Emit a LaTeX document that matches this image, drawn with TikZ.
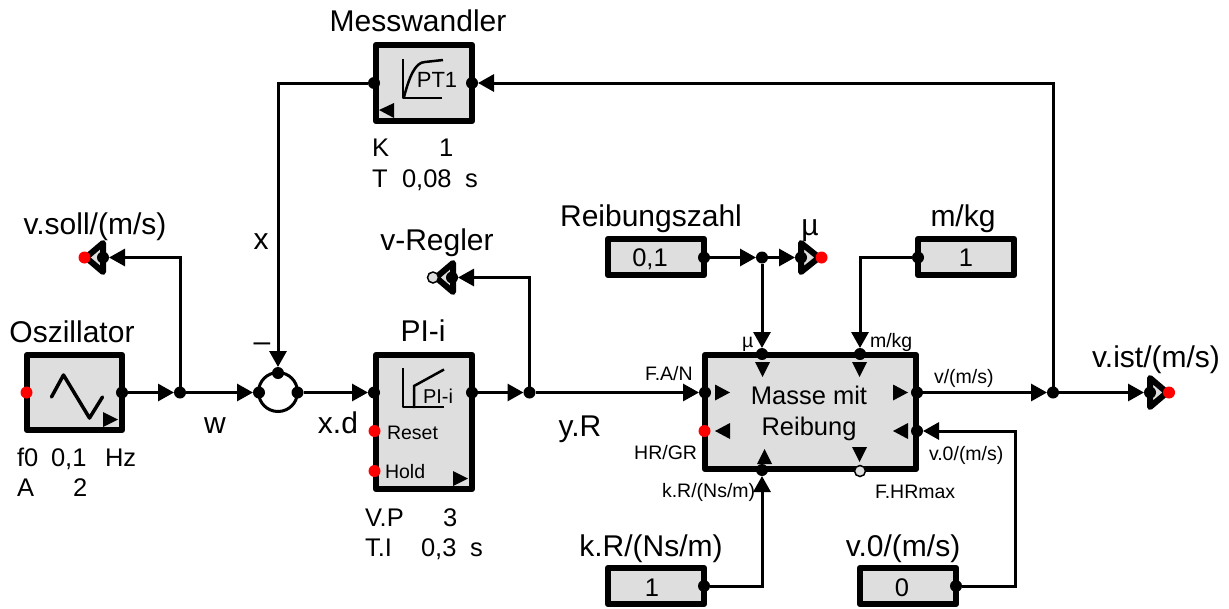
\documentclass[tikz,border=0pt]{standalone}
\usepackage{fontspec}
\setmainfont{Liberation Sans}
\usetikzlibrary{arrows.meta}
\newcommand{\fs}[1]{\fontsize{#1}{#1}\selectfont}
\definecolor{boxgrey}{HTML}{DEDEDE}
\definecolor{portred}{HTML}{FF0000}
\tikzset{
  blockbox/.style={draw=black,fill=boxgrey,line width=6.5pt,line join=round,inner sep=0pt,outer sep=0pt},
  port/.style={circle,fill=black,inner sep=0pt,outer sep=0pt,minimum size=12pt},
  redport/.style={circle,fill=portred,inner sep=0pt,outer sep=0pt,minimum size=12pt},
  openport/.style={circle,draw=black,line width=1.5pt,fill=boxgrey,inner sep=0pt,outer sep=0pt,minimum size=11pt},
  conn/.style={line width=3pt,line join=miter},
  arr/.style={conn,-{Triangle[length=16pt,width=17pt]}},
  outtri/.style={draw=black,fill=boxgrey,line width=6pt,line join=round},
  symb/.style={line width=2pt,line join=round},
  lbl/.style={inner sep=0pt,outer sep=0pt,font=\fs{30},anchor=mid,yshift=-7pt},
  par/.style={inner sep=0pt,outer sep=0pt,font=\fs{25.5},anchor=mid west,yshift=-7pt},
  tiny/.style={inner sep=0pt,outer sep=0pt,font=\fs{19.5},anchor=mid west,yshift=-5pt},
  val/.style={inner sep=0pt,outer sep=0pt,font=\fs{25.5},anchor=mid,yshift=-6pt}
}
\begin{document}
\begin{tikzpicture}[x=1pt,y=-1pt]
\useasboundingbox (0,0) rectangle (1229,608);

% blocks
\node[blockbox,minimum width=95pt,minimum height=75pt] (osc) at (74.5,392.5) {};
\node[blockbox,minimum width=96pt,minimum height=76pt] (mess) at (424,83) {};
\node[blockbox,minimum width=96pt,minimum height=134pt] (pi) at (424,422) {};
\node[blockbox,minimum width=211pt,minimum height=114pt] (mass) at (810.5,412) {};
\node[blockbox,minimum width=96pt,minimum height=36pt] (reib) at (656,257) {};
\node[blockbox,minimum width=96pt,minimum height=36pt] (mkg) at (966,257) {};
\node[blockbox,minimum width=96pt,minimum height=36pt] (kr) at (656,586) {};
\node[blockbox,minimum width=96pt,minimum height=36pt] (vn) at (908,586) {};
\draw[line width=3pt,fill=white] (278,392) circle (19.5pt);
\node[inner sep=0pt] (sum) at (278,392) {};

% output triangles
\draw[outtri] (103,243) -- (103,272) -- (86,257.5) -- cycle;
\draw[outtri] (453,263) -- (453,292) -- (436,277.5) -- cycle;
\draw[outtri] (801,243) -- (801,272) -- (819,257.5) -- cycle;
\draw[outtri] (1150,378) -- (1150,407) -- (1167,392.5) -- cycle;

% ports
\node[redport] (oscI) at (26.5,392.5) {};
\node[port] (oscO) at (122,392.5) {};
\node[port] (j1) at (180,392.5) {};
\node[port] (sumL) at (259,392.5) {};
\node[port] (sumR) at (297.5,392.5) {};
\node[port] (sumT) at (278,373) {};
\node[port] (vsI) at (103,257.5) {};
\node[redport] (vsO) at (84.5,257.5) {};
\node[port] (piI) at (374,392.5) {};
\node[port] (piO) at (472,392.5) {};
\node[redport] (piRes) at (374.5,431) {};
\node[redport] (piHold) at (374.5,471) {};
\node[port] (j2) at (529.5,392.5) {};
\node[port] (vrI) at (452,277.5) {};
\node[openport] (vrO) at (433,277.5) {};
\node[port] (meI) at (472,83) {};
\node[port] (meO) at (374,83) {};
\node[port] (maA) at (705,392.5) {};
\node[redport] (maH) at (704.5,431) {};
\node[port] (maMu) at (762,354) {};
\node[port] (maM) at (860,354) {};
\node[port] (maK) at (762,470) {};
\node[openport] (maF) at (860,471) {};
\node[port] (maV) at (917,392.5) {};
\node[port] (maVn) at (917,431) {};
\node[port] (reibO) at (704,257.5) {};
\node[port] (j3) at (762,257.5) {};
\node[port] (muI) at (801,257.5) {};
\node[redport] (muO) at (821.5,257.5) {};
\node[port] (mkgO) at (918,257.5) {};
\node[port] (krO) at (704,586) {};
\node[port] (vnO) at (956,586) {};
\node[port] (j4) at (1053,392.5) {};
\node[port] (viI) at (1150,392.5) {};
\node[redport] (viO) at (1169,392.5) {};
\coordinate (vnC) at (1015.5,431);

% connectors
\draw[arr] (oscO) -- (j1);
\draw[arr] (j1) -- (sumL);
\draw[arr] (j1) |- (vsI);
\draw[arr] (sumR) -- (piI);
\draw[arr] (meO) -| (sumT);
\draw[arr] (piO) -- (j2);
\draw[arr] (j2) |- (vrI);
\draw[arr] (j2) -- (maA);
\draw[arr] (reibO) -- (j3);
\draw[arr] (j3) -- (muI);
\draw[arr] (j3) -- (maMu);
\draw[arr] (mkgO) -| (maM);
\draw[arr] (krO) -| (maK);
\draw[arr] (vnO) -| (vnC) -- (maVn);
\draw[arr] (maV) -- (j4);
\draw[arr] (j4) -- (viI);
\draw[arr] (j4) |- (meI);

% block symbols
\draw[line width=3.5pt,line join=round,line cap=round] (51.5,397) -- (63.5,375) -- (89.5,418) -- (102.5,397);
\fill (103,412) -- (118,419.5) -- (103,427) -- cycle;
\fill (379,110) -- (394,103) -- (394,118) -- cycle;
\draw[symb] (403,59) -- (403,98) -- (442,98);
\draw[line width=2.5pt] (404,97) .. controls (409,78) and (415,62) .. (425,62) -- (443,60);
\fill (453,471) -- (468,478.5) -- (453,486) -- cycle;
\draw[symb] (403,368) -- (403,407) -- (444,407);
\draw[line width=2.5pt] (414,408) -- (414,386) -- (444,369.5);

% mass triangles
\fill (755,362) -- (770,362) -- (762.5,377) -- cycle;
\fill (852,362) -- (867,362) -- (859.5,377) -- cycle;
\fill (715,384.5) -- (730,392.5) -- (715,400.5) -- cycle;
\fill (715,431) -- (730,423) -- (730,439) -- cycle;
\fill (893,384.5) -- (908,392.5) -- (893,400.5) -- cycle;
\fill (893,431) -- (908,423) -- (908,439) -- cycle;
\fill (757,464) -- (772,464) -- (764.5,449) -- cycle;
\fill (852,447) -- (867,447) -- (859.5,462) -- cycle;

% labels
\node[lbl] (tMess) at (418,22) {Messwandler};
\node[lbl] (tVs) at (95,225) {v.soll/(m/s)};
\node[lbl] (tOsc) at (72,333) {Oszillator};
\node[lbl] (tX) at (261,240) {x};
\node[lbl] (tW) at (215,424) {w};
\node[lbl] (tXd) at (338,424) {x.d};
\node[lbl] (tMinus) at (262,342) {–};
\node[lbl] (tVr) at (437,241) {v-Regler};
\node[lbl] (tPi) at (423,332) {PI-i};
\node[lbl] (tYr) at (580,427) {y.R};
\node[lbl] (tRz) at (651,217) {Reibungszahl};
\node[lbl] (tMu) at (810,226) {µ};
\node[lbl] (tMkg) at (963,217) {m/kg};
\node[lbl] (tKr) at (651,547) {k.R/(Ns/m)};
\node[lbl] (tVn) at (903,547) {v.0/(m/s)};
\node[lbl] (tVi) at (1156,358) {v.ist/(m/s)};

\node[par] at (17,457) {f0};
\node[par] at (51,457) {0,1};
\node[par] at (105,457) {Hz};
\node[par] at (17,487) {A};
\node[par] at (73,487) {2};
\node[par] at (372,147) {K};
\node[par] at (439,147) {1};
\node[par] at (372,178) {T};
\node[par] at (402,178) {0,08};
\node[par] at (465,178) {s};
\node[par] at (365,517) {V.P};
\node[par] at (443,517) {3};
\node[par] at (365,547) {T.I};
\node[par] at (421,547) {0,3};
\node[par] at (470,547) {s};

\node[val] at (650,258) {0,1};
\node[val] at (966,258) {1};
\node[val] at (652,588) {1};
\node[val] at (902,588) {0};
\node[inner sep=0pt,font=\fs{22}] at (437,80) {PT1};
\node[inner sep=0pt,font=\fs{20}] at (438,396) {PI-i};
\node[tiny] at (387,432) {Reset};
\node[tiny] at (385,471) {Hold};
\node[inner sep=0pt,align=center,font=\fs{25.5},yshift=-2.5pt] (tMass) at (809,411) {Masse mit\\[6pt]Reibung};

\node[tiny] at (742,340) {µ};
\node[tiny] at (870,340) {m/kg};
\node[tiny] at (645,373) {F.A/N};
\node[tiny] at (934,376) {v/(m/s)};
\node[tiny,anchor=mid east] at (697,452) {HR/GR};
\node[tiny] at (929,453) {v.0/(m/s)};
\node[tiny] at (662,490) {k.R/(Ns/m)};
\node[tiny] at (875,491) {F.HRmax};
\end{tikzpicture}
\end{document}
